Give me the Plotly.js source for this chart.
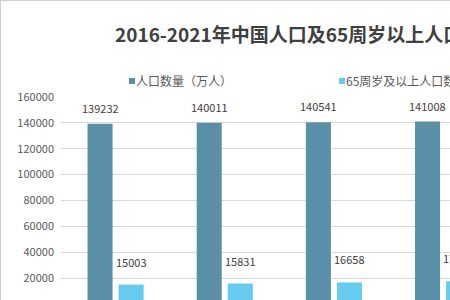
<!DOCTYPE html>
<html>
<head>
<meta charset="utf-8">
<script src="https://cdn.plot.ly/plotly-3.0.1.min.js"></script>
<style>
html,body{margin:0;padding:0;overflow:hidden;background:#fff;}
#chart{position:absolute;left:0;top:0;border-left:1px solid #cfcfcf;border-top:1px solid #cfcfcf;}
</style>
</head>
<body>
<div id="chart"></div>
<script>
const years = ['2016', '2017', '2018', '2019', '2020', '2021'];
const population = [139232, 140011, 140541, 141008, 141212, 141260];
const elderly = [15003, 15831, 16658, 17603, 19064, 20056];
const seriesNames = ['人口数量（万人）', '65周岁及以上人口数量（万人）'];
const titleText = '2016-2021年中国人口及65周岁以上人口数量统计';

const W = 740, H = 345;
const colors = ['#5b8fa8', '#66cbee'];
const FONT = 'Noto Sans CJK SC, Noto Sans, sans-serif';
const labelFont = {family: FONT, size: 11, color: '#404040'};

const traces = [
  {type: 'bar', name: seriesNames[0], x: years, y: population, marker: {color: colors[0]}, hoverinfo: 'none'},
  {type: 'bar', name: seriesNames[1], x: years, y: elderly, marker: {color: colors[1]}, hoverinfo: 'none'}
];

const annotations = [];
[population, elderly].forEach((arr, s) => {
  arr.forEach((v, i) => {
    annotations.push({
      x: i, y: v, xref: 'x', yref: 'y', text: String(v),
      showarrow: false, xanchor: 'center', yanchor: 'bottom',
      xshift: s === 0 ? -15.5 : 15.5, yshift: s === 0 ? 6 : 13,
      font: labelFont
    });
  });
});

const layout = {
  width: W, height: H,
  margin: {l: 60, r: 25, t: 96, b: 42},
  paper_bgcolor: '#fff', plot_bgcolor: '#fff',
  font: {family: FONT, color: '#595959'},
  title: {
    text: '<b>' + titleText + '</b>',
    font: {size: 19, color: '#404040', family: FONT},
    xref: 'container', yref: 'container', x: 114 / W, xanchor: 'left', y: 1 - 34 / H, yanchor: 'middle'
  },
  barmode: 'group', bargap: 0.431, bargroupgap: 0.194,
  showlegend: true,
  legend: {
    orientation: 'h', xref: 'container', yref: 'container',
    x: 95 / W, xanchor: 'left', y: 1 - 80 / H, yanchor: 'middle',
    font: {size: 12, color: '#595959', family: FONT}, entrywidth: 165, entrywidthmode: 'pixels'
  },
  xaxis: {
    type: 'category', showline: true, linecolor: '#d9d9d9', ticks: '',
    tickfont: {size: 11, color: '#595959'}, showgrid: false
  },
  yaxis: {
    range: [0, 160000], dtick: 20000, tick0: 0, tickformat: 'd', showline: false, ticks: '',
    gridcolor: '#d9d9d9', gridwidth: 1, zeroline: false,
    tickfont: {size: 11, color: '#595959'}, ticklabelstandoff: 6
  },
  annotations: annotations
};

Plotly.newPlot('chart', traces, layout, {displayModeBar: false, staticPlot: true}).then(gd => {
  gd.querySelectorAll('.legendpoints path').forEach(p => {
    const t = p.getAttribute('transform') || '';
    p.setAttribute('transform', 'translate(26,0) scale(0.5) ' + t);
  });
});
</script>
</body>
</html>
